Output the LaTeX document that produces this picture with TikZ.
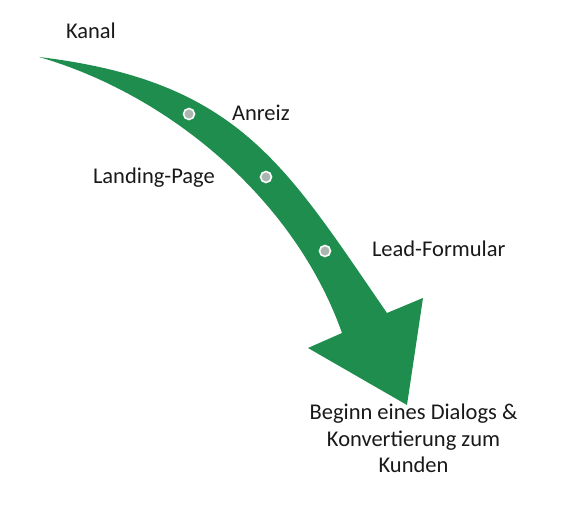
\documentclass[tikz,border=0pt]{standalone}
\usepackage{fontspec}
\setmainfont{Carlito}
\begin{document}
\begin{tikzpicture}[x=1pt,y=-1pt,
  lbl/.style={inner sep=0pt,outer sep=0pt,font=\fontsize{22.5}{26.5}\selectfont,text=black!90},
  dot/.style={circle,fill=black!28!green!10!white,draw=white,line width=1.6pt,minimum size=11pt,inner sep=0pt}]
\definecolor{arrowgreen}{RGB}{30,141,77}
\definecolor{dotgray}{RGB}{170,182,174}
\useasboundingbox (0,0) rectangle (566,513);
% arrow
\coordinate (tail) at (39,57);
\coordinate (innerR) at (387,313);
\coordinate (wingR) at (423,298);
\coordinate (tip) at (407,405);
\coordinate (wingL) at (308,348);
\coordinate (innerL) at (342,333);
\fill[arrowgreen] (tail) .. controls (239,81) and (285,165) .. (innerR)
  -- (wingR) -- (tip) -- (wingL) -- (innerL)
  .. controls (295,200) and (170,95) .. (tail) -- cycle;
% dots
\node[dot,fill=dotgray] (d1) at (189,114) {};
\node[dot,fill=dotgray] (d2) at (266,177) {};
\node[dot,fill=dotgray] (d3) at (325,251) {};
% labels
\node[lbl,anchor=base west] (kanal) at (66,38.5) {Kanal};
\node[lbl,anchor=base west] (anreiz) at (232,121) {Anreiz};
\node[lbl,anchor=base west] (landing) at (93,184) {Landing-Page};
\node[lbl,anchor=base west] (lead) at (372,257) {Lead-Formular};
\node[lbl,anchor=north,align=center] (beginn) at (413.5,404) {Beginn eines Dialogs \&\\Konvertierung zum\\Kunden};
\end{tikzpicture}
\end{document}
